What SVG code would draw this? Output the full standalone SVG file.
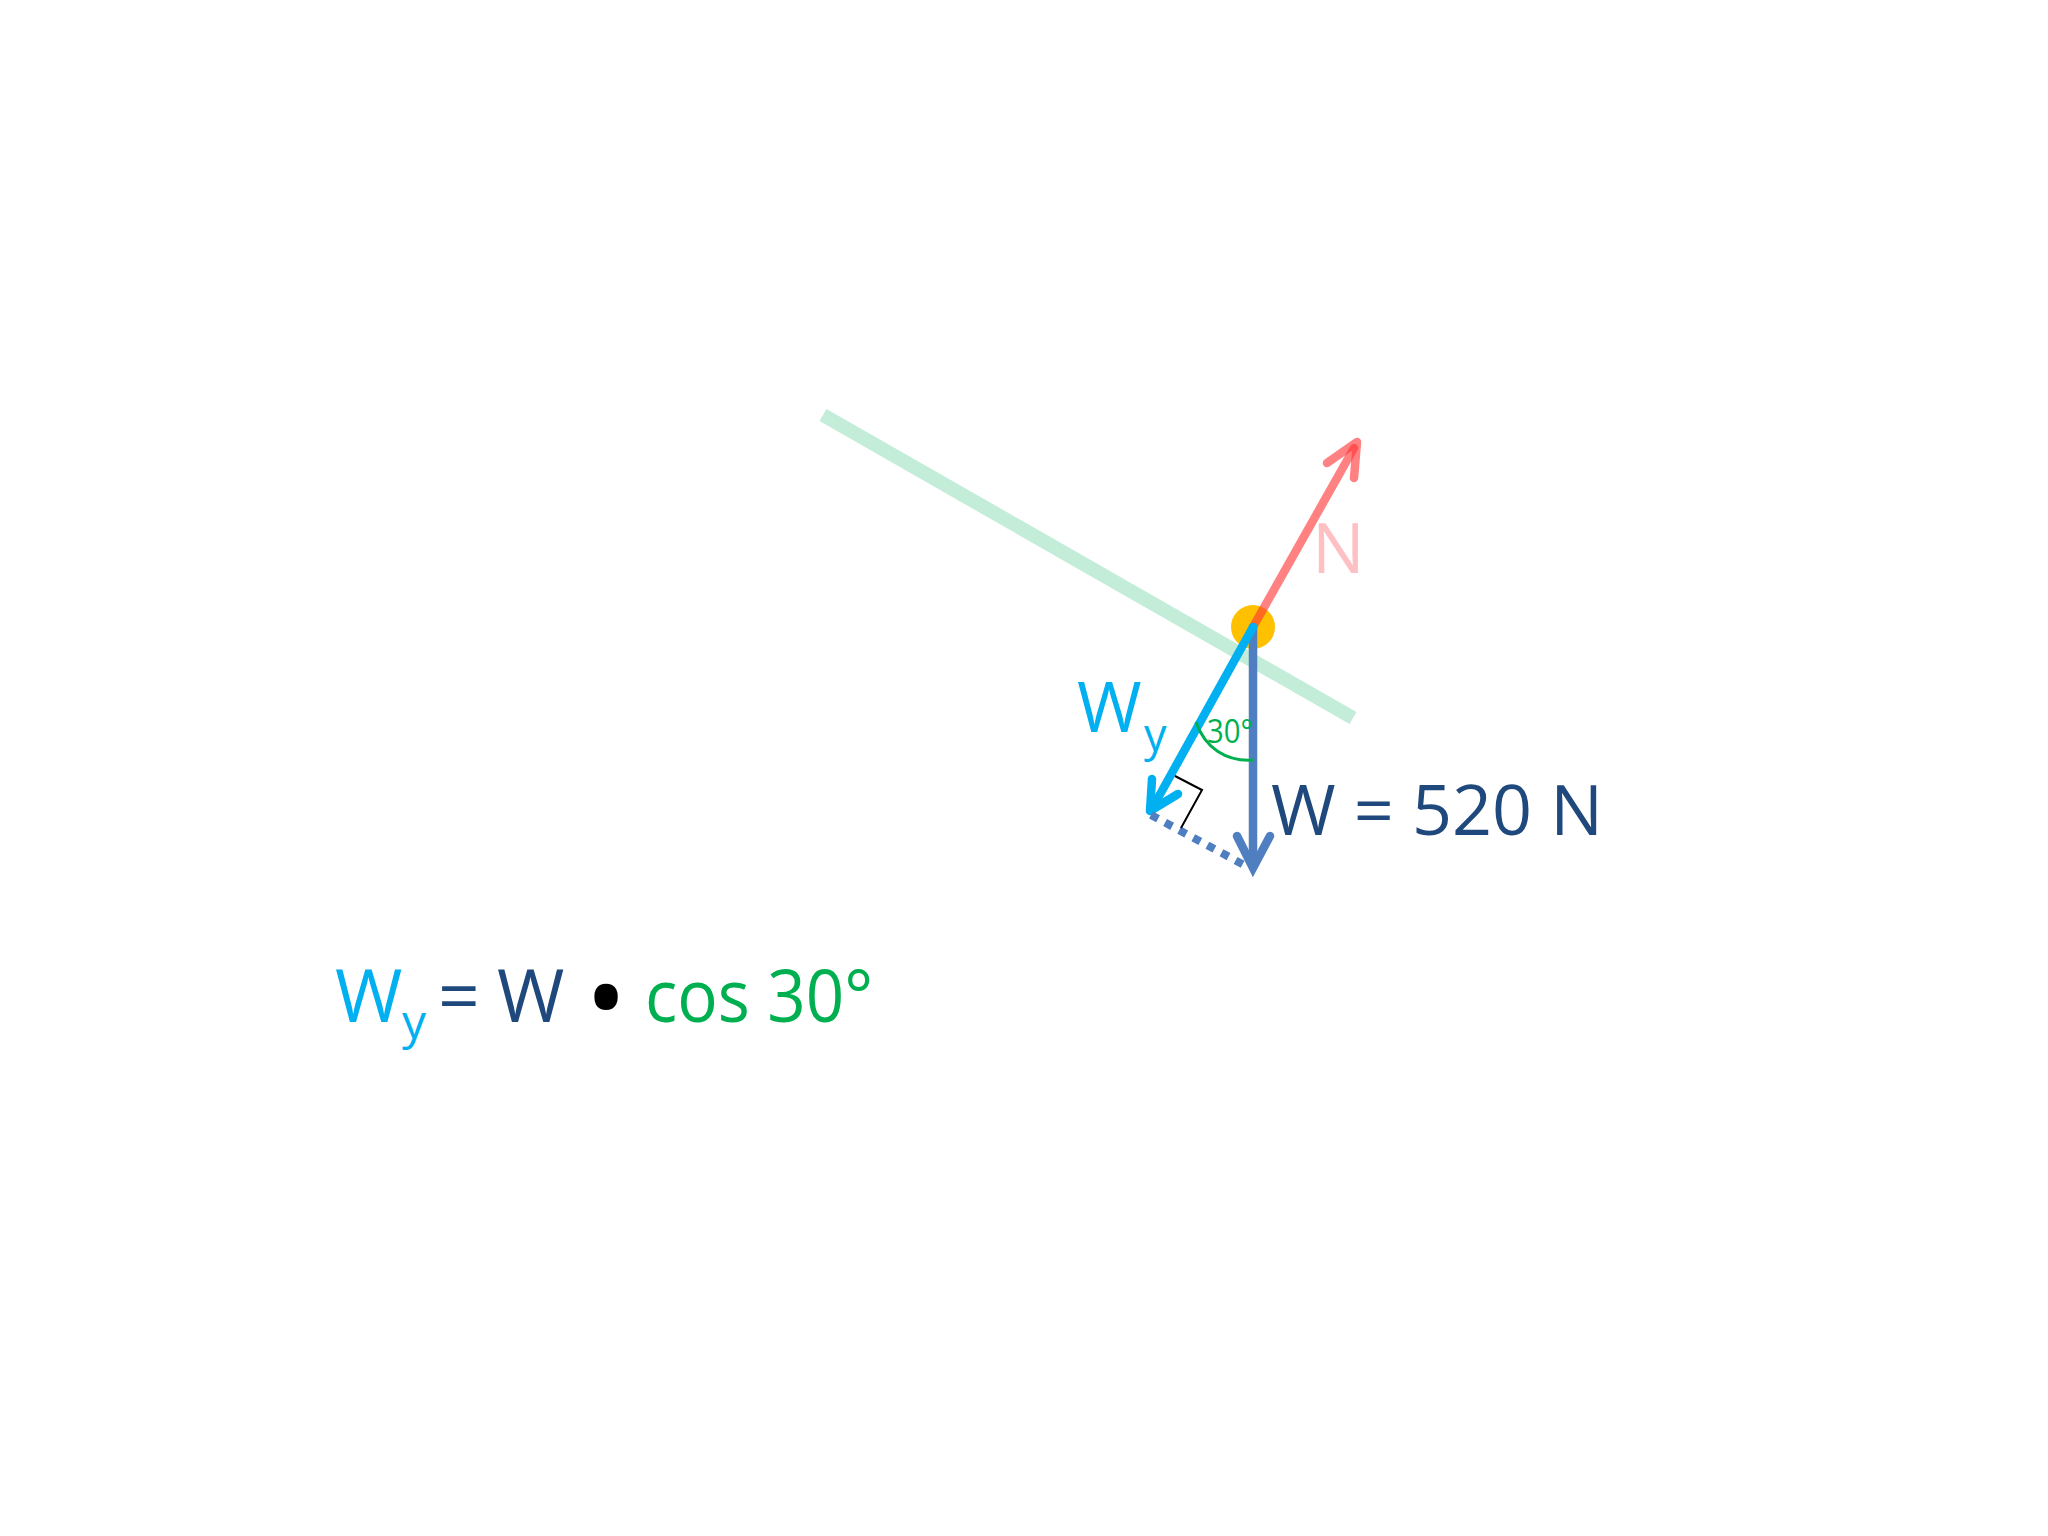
<svg xmlns="http://www.w3.org/2000/svg" width="2048" height="1536" viewBox="0 0 2048 1536">
<style>
text { font-family: "Open Sans", "Noto Sans", "Liberation Sans", sans-serif; }
.arrow { fill: none; stroke-linecap: round; stroke-linejoin: round; stroke-width: 8.5; }
.red { stroke: #FF3333; stroke-opacity: 0.62; }
.cyan { stroke: #00B0F0; }
.navy { stroke: #4F7FC0; }
.sharp { stroke-linejoin: miter; }
.lt { fill: #FFC0C4; }
.cy { fill: #00B0F0; }
.dk { fill: #1F497D; }
.gr { fill: #00B050; }
</style>
<rect width="2048" height="1536" fill="#FFFFFF"/>
<g id="incline">
  <line x1="823" y1="415" x2="1353" y2="718" stroke="#C3EDD8" stroke-width="14"/>
</g>
<g id="body">
  <circle cx="1253" cy="627" r="22" fill="#FFC000"/>
</g>
<g id="connectors">
  <g id="normal-force">
    <line class="arrow red" x1="1253" y1="627" x2="1354" y2="448"/>
    <polyline class="arrow red" points="1327,463 1357,442 1354,478"/>
  </g>
  <g id="weight">
    <line class="arrow navy" x1="1253" y1="627" x2="1253" y2="866"/>
    <polyline class="arrow navy sharp" points="1237,836 1253,868 1270,836"/>
  </g>
  <g id="weight-y">
    <line class="arrow cyan" x1="1253" y1="627" x2="1153" y2="807"/>
    <polyline class="arrow cyan" points="1152,779 1150,811 1178,794"/>
  </g>
  <line id="projection" x1="1151" y1="815" x2="1246" y2="866" stroke="#4F7FC0" stroke-width="8" stroke-dasharray="8 8"/>
  <polyline id="right-angle" points="1175,776 1202,790 1181,828" fill="none" stroke="#000000" stroke-width="2"/>
  <path id="angle-arc" d="M1196,722 C1205,748 1226,762 1254,760" fill="none" stroke="#00B050" stroke-width="3"/>
</g>
<g id="labels">
  <text class="lt" x="1312" y="573" font-size="70">N</text>
  <text class="cy" x="1077" y="732" font-size="70">W</text>
  <text class="cy" x="1144" y="751" font-size="45">y</text>
  <text class="gr" x="1207" y="743" font-size="32" textLength="46" lengthAdjust="spacingAndGlyphs">30°</text>
  <text class="dk" x="1271" y="835" font-size="70">W = 520 N</text>
</g>
<g id="formula">
  <text class="cy" x="335" y="1022" font-size="73">W</text>
  <text class="cy" x="402" y="1039" font-size="48">y</text>
  <text class="dk" x="438" y="1022" font-size="73">=</text>
  <text class="dk" x="497" y="1022" font-size="73">W</text>
  <text fill="#000000" x="606" y="1038" font-size="112" text-anchor="middle">•</text>
  <text class="gr" x="645" y="1022" font-size="73" textLength="228" lengthAdjust="spacingAndGlyphs">cos 30°</text>
</g>
</svg>
